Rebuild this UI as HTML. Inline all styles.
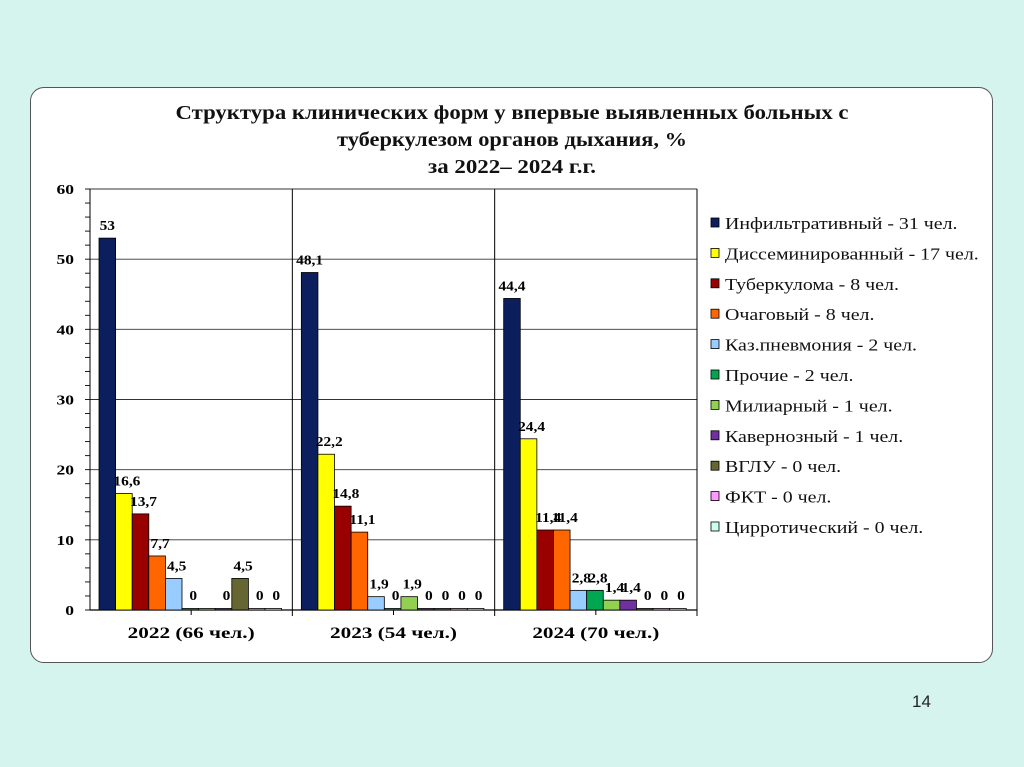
<!DOCTYPE html>
<html><head><meta charset="utf-8"><style>
body{margin:0;width:1024px;height:767px;background:#d5f4ee;font-family:"Liberation Serif",serif;overflow:hidden;position:relative}
#box{position:absolute;left:30px;top:87px;width:963px;height:576px;background:#fff;border:1.5px solid #555;border-radius:14px;box-sizing:border-box}
#pg{position:absolute;left:912px;top:692px;font-family:"Liberation Sans",sans-serif;font-size:17px;color:#222}
</style></head><body>
<div id="box"></div>
<svg id="chart" width="1024" height="767" style="position:absolute;left:0;top:0"></svg>
<div id="pg">14</div>
<script>
const categories=["2022 (66 чел.)","2023 (54 чел.)","2024 (70 чел.)"];
const seriesNames=["Инфильтративный - 31 чел.","Диссеминированный - 17 чел.","Туберкулома - 8 чел.","Очаговый - 8 чел.","Каз.пневмония - 2 чел.","Прочие - 2 чел.","Милиарный - 1 чел.","Кавернозный - 1 чел.","ВГЛУ - 0 чел.","ФКТ - 0 чел.","Цирротический - 0 чел."];
const colors=["#0b1f5e","#ffff00","#990000","#ff6600","#99ccff","#00a650","#92d050","#7030a0","#666633","#ff99ff","#ccfff0"];
const v2022=[53,16.6,13.7,7.7,4.5,0,0,0,4.5,0,0];
const v2023=[48.1,22.2,14.8,11.1,1.9,0,1.9,0,0,0,0];
const v2024=[44.4,24.4,11.4,11.4,2.8,2.8,1.4,1.4,0,0,0];
const showLabel2022=[1,1,1,1,1,1,0,1,1,1,1];
const showLabel2023=[1,1,1,1,1,1,1,1,1,1,1];
const showLabel2024=[1,1,1,1,1,1,1,1,1,1,1];
const yTicks=[0,10,20,30,40,50,60];
const values=[v2022,v2023,v2024];
const shows=[showLabel2022,showLabel2023,showLabel2024];
const svg=document.getElementById('chart');
const NS='http://www.w3.org/2000/svg';
function mk(t,a,txt){const e=document.createElementNS(NS,t);for(const k in a)e.setAttribute(k,a[k]);if(txt!==undefined)e.textContent=txt;svg.appendChild(e);return e;}
function stretch(t,f){const w=t.getComputedTextLength();t.setAttribute('textLength',w*f);t.setAttribute('lengthAdjust','spacingAndGlyphs');}
const X0=90,X1=697,Y0=610,Y1=189,YMAX=60;
const y=v=>Y0-(v/YMAX)*(Y0-Y1);
const gw=(X1-X0)/categories.length, bw=16.6, off=9;
const bx=(g,i)=>X0+g*gw+off+i*bw;
const tl=["Структура клинических форм у впервые выявленных больных с","туберкулезом органов дыхания, %","за 2022– 2024 г.г."];
const tw=[673,350,168];
const ty=[119,146,173];
tl.forEach((s,i)=>{const t=mk('text',{x:512,y:ty[i],'text-anchor':'middle','font-size':20,'font-weight':'bold',fill:'#111'},s);

t.setAttribute('textLength',tw[i]);t.setAttribute('lengthAdjust','spacingAndGlyphs');});
yTicks.forEach(v=>{const l=mk('line',{x1:X0,x2:X1,y1:y(v),y2:y(v),stroke:'#333','stroke-width':0.9});

const t=mk('text',{x:X0-16,y:y(v)+5,'text-anchor':'end','font-size':14,'font-weight':'bold'},v);
stretch(t,1.25);});
for(let v=0;v<=YMAX;v+=2){mk('line',{x1:X0-5,x2:X0,y1:y(v),y2:y(v),stroke:'#000','stroke-width':0.9});}
mk('line',{x1:X0,x2:X0,y1:Y1,y2:Y0,stroke:'#000','stroke-width':1});
mk('line',{x1:X1,x2:X1,y1:Y1,y2:Y0+6,stroke:'#000','stroke-width':1});
for(let g=1;g<categories.length;g++){const l=mk('line',{x1:X0+g*gw,x2:X0+g*gw,y1:Y1,y2:Y0+6,stroke:'#000','stroke-width':1});
}
mk('line',{x1:X0,x2:X1,y1:Y0,y2:Y0,stroke:'#000','stroke-width':1.2});
categories.forEach((c,g)=>{const cx=X0+g*gw+gw/2;
mk('line',{x1:cx,x2:cx,y1:Y0,y2:Y0+5,stroke:'#000'});
const t=mk('text',{x:cx,y:Y0+28,'text-anchor':'middle','font-size':16,'font-weight':'bold'},c);

t.setAttribute('textLength',127);t.setAttribute('lengthAdjust','spacingAndGlyphs');
values[g].forEach((v,i)=>{const h=Math.max(y(0)-y(v),1.5);
const r=mk('rect',{x:bx(g,i),y:y(0)-h,width:bw,height:h,fill:colors[i],stroke:'#000','stroke-width':0.8});

if(shows[g][i]){const lab=mk('text',{x:bx(g,i)+bw/2+(i>0?3:0),y:y(v)-(v>0?8:10),'text-anchor':'middle','font-size':14,'font-weight':'bold'},String(v).replace('.',','));
stretch(lab,1.1);}
});});
seriesNames.forEach((s,i)=>{const ly=223+i*30.4;
const r=mk('rect',{x:711,y:ly-5,width:8,height:9,fill:colors[i],stroke:'#000','stroke-width':0.8});

const t=mk('text',{x:725,y:ly+6,'font-size':17,fill:'#111'},s);
stretch(t,1.17);});
</script>
</body></html>
